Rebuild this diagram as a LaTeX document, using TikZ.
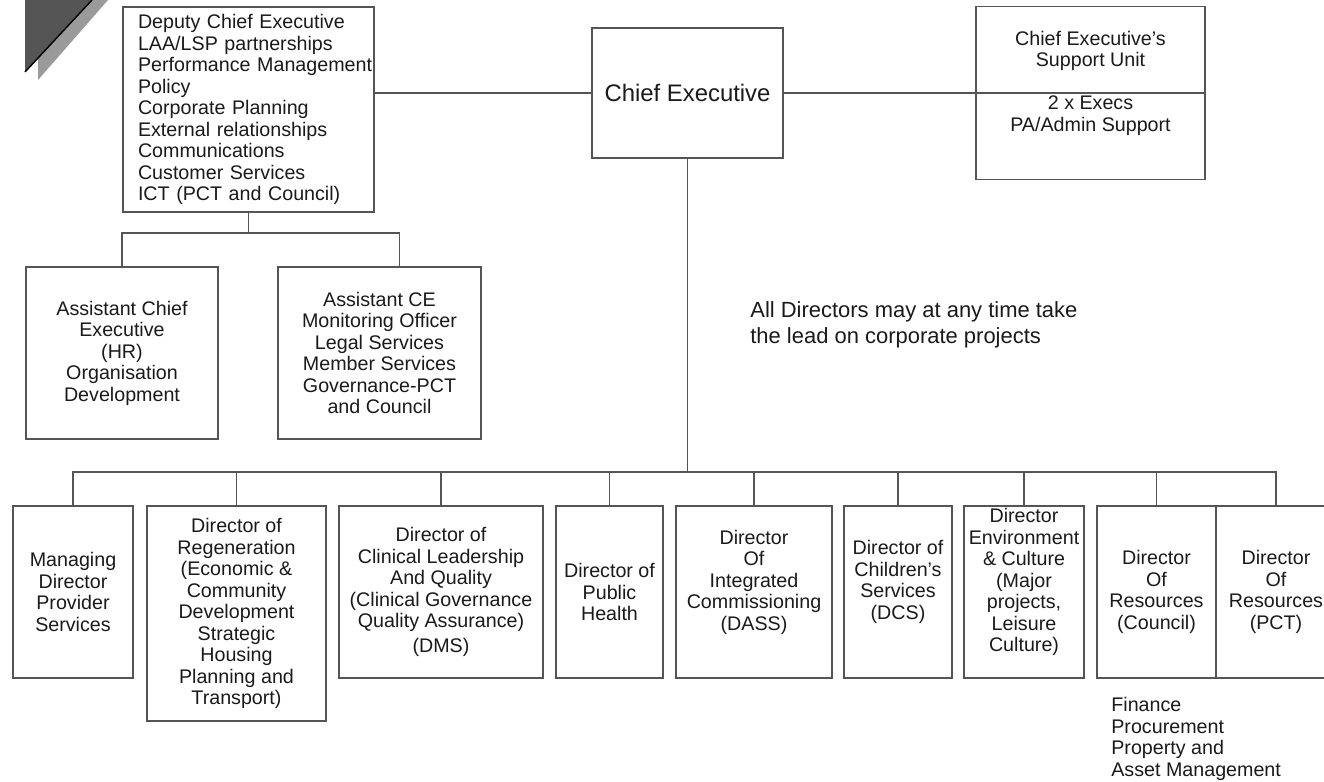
\documentclass[tikz,border=0pt]{standalone}
\usepackage{fontspec}
\setmainfont{Liberation Sans}
\usetikzlibrary{calc}
\definecolor{linegrey}{HTML}{555555}
\definecolor{inkgrey}{HTML}{1A1A1A}
\definecolor{darkflag}{HTML}{555555}
\definecolor{lightflag}{HTML}{9A9A9A}
\newcommand{\boxfont}{\fontsize{11.2}{12.25}\selectfont}
\newcommand{\cefont}{\fontsize{13.6}{16}\selectfont}
\newcommand{\notefont}{\fontsize{12.5}{14.7}\selectfont}
\tikzset{
	orgbox/.style={draw=linegrey, line width=1.1pt, text=inkgrey, align=center, inner sep=0pt, font=\boxfont},
	boxtext/.style={text=inkgrey, align=center, inner sep=0pt, font=\boxfont},
	link/.style={draw=linegrey, line width=1.1pt},
	raised/.style={text depth=0.48cm},
}

\begin{document}
\begin{tikzpicture}[x=0.02cm, y=-0.02cm]
		%%%%% START %%%%%
		\useasboundingbox (0,0) rectangle (1324,781);
		
		\fill[lightflag] (38,0) -- (108,0) -- (38,80) -- cycle;
		\fill[darkflag] (25,0) -- (92,0) -- (25,72) -- cycle;
		\draw[black, line width=0.8pt] (92,0) -- (25,72);
		
		% top row
		\node[orgbox, align=left, text width=4.42cm, inner xsep=0.3cm, minimum height=4.1cm] (dce) at (248.5,109.5)
			{Deputy Chief Executive\\LAA/LSP partnerships\\\mbox{Performance Management}\\Policy\\Corporate Planning\\External relationships\\Communications\\Customer Services\\ICT (PCT and Council)};
		\node[orgbox, font=\cefont, minimum width=3.82cm, minimum height=2.6cm] (ce) at (687.5,93) {Chief Executive};
		\node[orgbox, minimum width=4.58cm, minimum height=3.46cm] (sup) at (1090.5,93) {};
		\node[boxtext] (suphead) at (1090.5,51) {Chief Executive’s\\Support Unit};
		\node[boxtext] (supstaff) at (1090.5,115.5) {2 x Execs\\PA/Admin Support};
		
		% under the deputy
		\node[orgbox, minimum width=3.84cm, minimum height=3.44cm] (ace) at (122,353)
			{Assistant Chief\\Executive\\(HR)\\Organisation\\Development};
		\node[orgbox, minimum width=4.06cm, minimum height=3.44cm] (acm) at (379.5,353)
			{Assistant CE\\Monitoring Officer\\Legal Services\\Member Services\\Governance-PCT\\and Council};
		
		\node[anchor=west, text=inkgrey, align=left, inner sep=0pt, font=\notefont] (note) at (750,325)
			{All Directors may at any time take\\the lead on corporate projects};
		
		% directors
		\node[orgbox, minimum width=2.4cm, minimum height=3.44cm] (mdps) at (73,592) {Managing\\Director\\Provider\\Services};
		\node[orgbox, minimum width=3.58cm, minimum height=4.3cm] (regen) at (236.5,613.5)
			{Director of\\Regeneration\\(Economic \&\\Community\\Development\\Strategic\\Housing\\Planning and\\Transport)};
		\node[orgbox, minimum width=4.08cm, minimum height=3.44cm] (clin) at (441,592)
			{Director of\\Clinical Leadership\\And Quality\\(Clinical Governance\\Quality Assurance)\\[2pt](DMS)};
		\node[orgbox, minimum width=2.14cm, minimum height=3.44cm] (pubh) at (609.5,592) {Director of\\Public\\Health};
		\node[orgbox, raised, minimum width=3.12cm, minimum height=3.44cm] (dass) at (754,592)
			{Director\\Of\\Integrated\\Commissioning\\(DASS)};
		\node[orgbox, raised, minimum width=2.16cm, minimum height=3.44cm] (dcs) at (898,592)
			{Director of\\Children’s\\Services\\(DCS)};
		\node[orgbox, raised, minimum width=2.4cm, minimum height=3.44cm] (envc) at (1024,592)
			{Director\\Environment\\\& Culture\\(Major\\projects,\\Leisure\\Culture)};
		\node[orgbox, minimum width=2.38cm, minimum height=3.44cm] (rescl) at (1156.5,592)
			{Director\\Of\\Resources\\(Council)};
		\node[orgbox, minimum width=2.4cm, minimum height=3.44cm] (respct) at (1276,592)
			{Director\\Of\\Resources\\(PCT)};
		
		\node[boxtext, align=left, anchor=west] (finance) at (1111,739)
			{Finance\\Procurement\\Property and\\Asset Management};
		
		% lines
		\coordinate (dsplit) at (248.5,233);
		\coordinate (bus) at (687.5,472);
		
		\draw[link] (ce.west) -- (ce.west -| dce.east);
		\draw[link] (ce.east) -- (sup.west);
		\draw[link] (sup.west) -- (sup.east);
		
		\draw[link] (dce.south) -- (dsplit);
		\draw[link] (ace.north) |- (dsplit) -| ($(acm.north)+(20,0)$);
		
		\draw[link] (ce.south) -- (bus);
		\foreach \d in {mdps,regen,clin,pubh,dass,dcs,envc,rescl,respct}
			\draw[link] (bus) -| (\d.north);
		
		%%%%% END %%%%%
	\end{tikzpicture}
\end{document}
